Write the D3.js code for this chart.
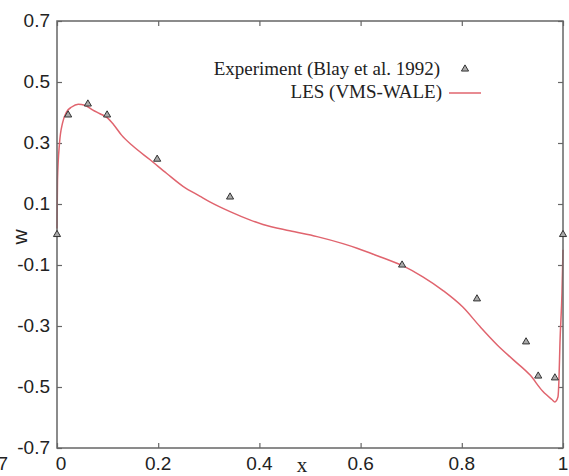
<!DOCTYPE html>
<html><head><meta charset="utf-8">
<script src="https://cdn.jsdelivr.net/npm/d3@7"></script>
<style>
body{margin:0;background:#fff;}
svg{display:block;}
</style></head>
<body>
<svg id="chart" width="569" height="476"></svg>
<script>
// Experiment (Blay et al. 1992)
const expX = [0.0, 0.022, 0.061, 0.099, 0.198, 0.342, 0.682, 0.83, 0.927, 0.951, 0.984, 1.0];
const expW = [0.0, 0.392, 0.428, 0.392, 0.247, 0.123, -0.100, -0.211, -0.352, -0.464, -0.470, 0.0];
// LES (VMS-WALE)
const lesX = [0, 0.001, 0.005, 0.011, 0.019, 0.029, 0.042, 0.055, 0.071, 0.085, 0.099, 0.112, 0.128, 0.15, 0.184, 0.217, 0.249, 0.283, 0.302, 0.342, 0.381, 0.407, 0.46, 0.514, 0.565, 0.593, 0.638, 0.684, 0.723, 0.763, 0.802, 0.836, 0.87, 0.902, 0.935, 0.96, 0.978, 0.984, 0.99, 0.992, 0.994, 0.998, 1.0];
const lesW = [0.02, 0.18, 0.3, 0.366, 0.402, 0.418, 0.427, 0.424, 0.408, 0.396, 0.383, 0.36, 0.325, 0.29, 0.245, 0.2, 0.158, 0.125, 0.107, 0.075, 0.048, 0.033, 0.012, -0.007, -0.030, -0.045, -0.073, -0.103, -0.139, -0.184, -0.238, -0.302, -0.362, -0.411, -0.461, -0.514, -0.541, -0.549, -0.533, -0.477, -0.356, -0.19, -0.05];
const xTicks = [0, 0.2, 0.4, 0.6, 0.8, 1];
const xTickLabels = ["0", "0.2", "0.4", "0.6", "0.8", "1"];
const yTicks = [0.7, 0.5, 0.3, 0.1, -0.1, -0.3, -0.5, -0.7];
const yTickLabels = ["0.7", "0.5", "0.3", "0.1", "-0.1", "-0.3", "-0.5", "-0.7"];
const legendLabels = ["Experiment (Blay et al. 1992)", "LES (VMS-WALE)"];

const svg = d3.select("#chart");
const L = 57, R = 563, T = 21, B = 448;
const x = d3.scaleLinear().domain([0, 1]).range([L, R]);
const y = d3.scaleLinear().domain([-0.7, 0.7]).range([B, T]);
const frameColor = "#666";
const tickFont = "'Liberation Sans', Arial, sans-serif";

// axes (inward ticks, mirrored)
const tk = 5;
svg.append("g").attr("transform", `translate(0,${B})`)
  .call(d3.axisTop(x).tickValues(xTicks).tickSize(tk).tickFormat(""))
  .call(g => g.select(".domain").remove())
  .selectAll("line").attr("stroke", frameColor).attr("stroke-width", 1.2);
svg.append("g").attr("transform", `translate(0,${T})`)
  .call(d3.axisBottom(x).tickValues(xTicks).tickSize(tk).tickFormat(""))
  .call(g => g.select(".domain").remove())
  .selectAll("line").attr("stroke", frameColor).attr("stroke-width", 1.2);
svg.append("g").attr("transform", `translate(${L},0)`)
  .call(d3.axisRight(y).tickValues(yTicks).tickSize(tk).tickFormat(""))
  .call(g => g.select(".domain").remove())
  .selectAll("line").attr("stroke", frameColor).attr("stroke-width", 1.2);
svg.append("g").attr("transform", `translate(${R},0)`)
  .call(d3.axisLeft(y).tickValues(yTicks).tickSize(tk).tickFormat(""))
  .call(g => g.select(".domain").remove())
  .selectAll("line").attr("stroke", frameColor).attr("stroke-width", 1.2);

// tick labels
svg.append("g").selectAll("text").data(xTicks).join("text")
  .attr("x", d => x(d) + (d === 0 ? 4 : 0)).attr("y", 470)
  .attr("text-anchor", "middle")
  .attr("font-family", tickFont).attr("font-size", 19).attr("fill", "#222")
  .text((d, i) => xTickLabels[i]);
svg.append("g").selectAll("text").data(yTicks).join("text")
  .attr("x", 50).attr("y", d => y(d) + 6)
  .attr("text-anchor", "end")
  .attr("font-family", tickFont).attr("font-size", 19).attr("fill", "#222")
  .text((d, i) => yTickLabels[i]);
// cut-off label at far left (as in the reference)
svg.append("text").attr("x", 8).attr("y", 470).attr("text-anchor", "end")
  .attr("font-family", tickFont).attr("font-size", 19).attr("fill", "#222").text("-0.7");

// axis titles
svg.append("text").attr("x", 302).attr("y", 472).attr("text-anchor", "middle")
  .attr("font-family", "'Liberation Serif', 'Times New Roman', serif").attr("font-size", 21).attr("fill", "#222").text("x");
svg.append("text").attr("transform", "translate(27,237) rotate(-90)").attr("text-anchor", "middle")
  .attr("font-family", tickFont).attr("font-size", 21).attr("fill", "#222").text("w");

// LES line
const lineColor = "#e0646e";
const line = d3.line().x(d => x(d[0])).y(d => y(d[1])).curve(d3.curveMonotoneX);
svg.append("path").datum(lesX.map((v, i) => [v, lesW[i]]))
  .attr("d", line).attr("fill", "none").attr("stroke", lineColor).attr("stroke-width", 1.5)
  .attr("stroke-linejoin", "round");

// frame
svg.append("rect").attr("x", L).attr("y", T).attr("width", R - L).attr("height", B - T)
  .attr("fill", "none").attr("stroke", frameColor).attr("stroke-width", 1.5);

// experiment markers
const tri = d3.symbol().type(d3.symbolTriangle).size(22);
svg.append("g").selectAll("path").data(expX.map((v, i) => [v, expW[i]])).join("path")
  .attr("transform", d => `translate(${x(d[0])},${y(d[1])})`)
  .attr("d", tri).attr("fill", "#aaa").attr("stroke", "#333").attr("stroke-width", 1);

// legend
const legFont = "'Liberation Serif', 'Times New Roman', serif";
svg.append("text").attr("x", 440).attr("y", 75).attr("text-anchor", "end")
  .attr("font-family", legFont).attr("font-size", 19).attr("fill", "#222").text(legendLabels[0]);
svg.append("path").attr("transform", "translate(465,69)").attr("d", tri)
  .attr("fill", "#aaa").attr("stroke", "#333").attr("stroke-width", 1);
svg.append("text").attr("x", 442).attr("y", 98).attr("text-anchor", "end")
  .attr("font-family", legFont).attr("font-size", 19).attr("fill", "#222").text(legendLabels[1]);
svg.append("line").attr("x1", 449).attr("x2", 481).attr("y1", 93).attr("y2", 93)
  .attr("stroke", lineColor).attr("stroke-width", 1.5);
</script>
</body></html>
